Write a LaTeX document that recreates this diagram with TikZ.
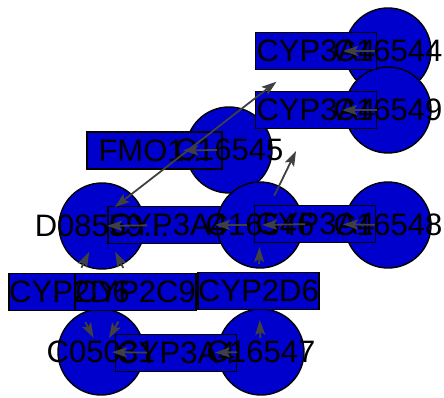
\documentclass[tikz,border=0pt]{standalone}
\usepackage{fontspec}
\setmainfont{Liberation Sans}
\usetikzlibrary{arrows.meta}
\definecolor{nodeblue}{RGB}{0,0,204}
\definecolor{edgegray}{RGB}{64,64,64}
\begin{document}
\begin{tikzpicture}[x=1pt,y=-1pt,
  circ/.style={circle,draw=black,line width=1.4pt,fill=nodeblue,minimum size=86pt,inner sep=0pt},
  rbox/.style={rectangle,draw=black,line width=1.4pt,fill=nodeblue,minimum width=121pt,minimum height=37pt,inner sep=0pt},
  lbl/.style={font=\fontsize{31}{31}\selectfont,inner sep=0pt,text=black},
  edge/.style={draw=edgegray,line width=1.8pt,-{Stealth[length=15pt,width=10pt,inset=3pt]}},
  bothedge/.style={draw=edgegray,line width=1.8pt,{Stealth[length=15pt,width=10pt,inset=3pt]}-{Stealth[length=15pt,width=10pt,inset=3pt]}}
]
\useasboundingbox (0,0) rectangle (444,398);
% shapes
\node[circ] (c16544) at (388,51) {};
\node[circ] (c16549) at (388,110) {};
\node[circ] (c16545) at (229,150) {};
\node[rbox] (rtop) at (316,51) {};
\node[rbox] (r2) at (316,110) {};
\node[rbox,minimum width=135pt] (rfmo) at (154.5,150.5) {};
\node[circ] (d08) at (102,226) {};
\node[rbox] (rmid) at (168.5,225) {};
\node[circ] (c16546) at (260,225) {};
\node[circ] (c16548) at (388,225) {};
\node[rbox] (rmid2) at (315,224) {};
\node[circ] (c05031) at (101,352) {};
\node[circ] (c16547) at (261,352) {};
\node[rbox] (r2d6a) at (69.5,292) {};
\node[rbox] (r2c9) at (135.5,292) {};
\node[rbox] (r2d6b) at (258.5,291) {};
\node[rbox] (rbot) at (176,353) {};
% labels
\node[lbl] (l16544) at (c16544.center) {C16544};
\node[lbl] (l16549) at (c16549.center) {C16549};
\node[lbl] (l16545) at (c16545.center) {C16545};
\node[lbl] (ltop) at (rtop.center) {CYP3A4};
\node[lbl] (l2) at (r2.center) {CYP3A4};
\node[lbl] (lfmo) at (rfmo.center) {FMO1...};
\node[lbl] (ld08) at (d08.center) {D08559...};
\node[lbl] (lmid) at (rmid.center) {CYP3A4};
\node[lbl] (l16546) at (c16546.center) {C16546};
\node[lbl] (l16548) at (c16548.center) {C16548};
\node[lbl] (lmid2) at (rmid2.center) {CYP3A4};
\node[lbl] (l05031) at (c05031.center) {C05031};
\node[lbl] (l16547) at (c16547.center) {C16547};
\node[lbl] (l2d6a) at (r2d6a.center) {CYP2D6};
\node[lbl] (l2c9) at (r2c9.center) {CYP2C9};
\node[lbl] (l2d6b) at (r2d6b.center) {CYP2D6};
\node[lbl] (lbot) at (rbot.center) {CYP3A4};
% edges
\draw[edge,shorten <=13pt,shorten >=27pt] (c16544.center) -- (rtop.center);
\draw[edge,shorten <=11pt,shorten >=26pt] (c16549.center) -- (r2.center);
\draw[edge,shorten <=12pt,shorten >=28.5pt] (c16545.center) -- (rfmo.center);
\draw[bothedge,shorten <=16pt,shorten >=50pt] ([yshift=9pt]d08.center) -- (rtop.center);
\draw[edge,shorten <=32.6pt,shorten >=45.6pt] (c16546.center) -- (r2.center);
\draw[edge,shorten <=13pt,shorten >=28pt] (c16548.center) -- (rmid2.center);
\draw[edge,shorten <=10pt,shorten >=2pt] (rmid2.center) -- (c16546.center);
\draw[edge,shorten <=13pt,shorten >=46.5pt] (c16546.center) -- (rmid.center);
\draw[edge,shorten <=21.5pt,shorten >=5pt] (rmid.center) -- (d08.center);
\draw[edge,shorten <=27pt,shorten >=29pt] (r2d6a.center) -- (d08.center);
\draw[edge,shorten <=27pt,shorten >=29pt] (r2c9.center) -- (d08.center);
\draw[edge,shorten <=27pt,shorten >=22pt] (r2d6b.center) -- (c16546.center);
\draw[edge,shorten <=34pt,shorten >=16pt] (r2d6a.center) -- (c05031.center);
\draw[edge,shorten <=34pt,shorten >=16pt] (r2c9.center) -- (c05031.center);
\draw[edge,shorten <=14pt,shorten >=29pt] (c16547.center) -- (r2d6b.center);
\draw[edge,shorten <=24pt,shorten >=39pt] (c16547.center) -- (rbot.center);
\draw[edge,shorten <=29pt,shorten >=11pt] (rbot.center) -- (c05031.center);
\end{tikzpicture}
\end{document}
